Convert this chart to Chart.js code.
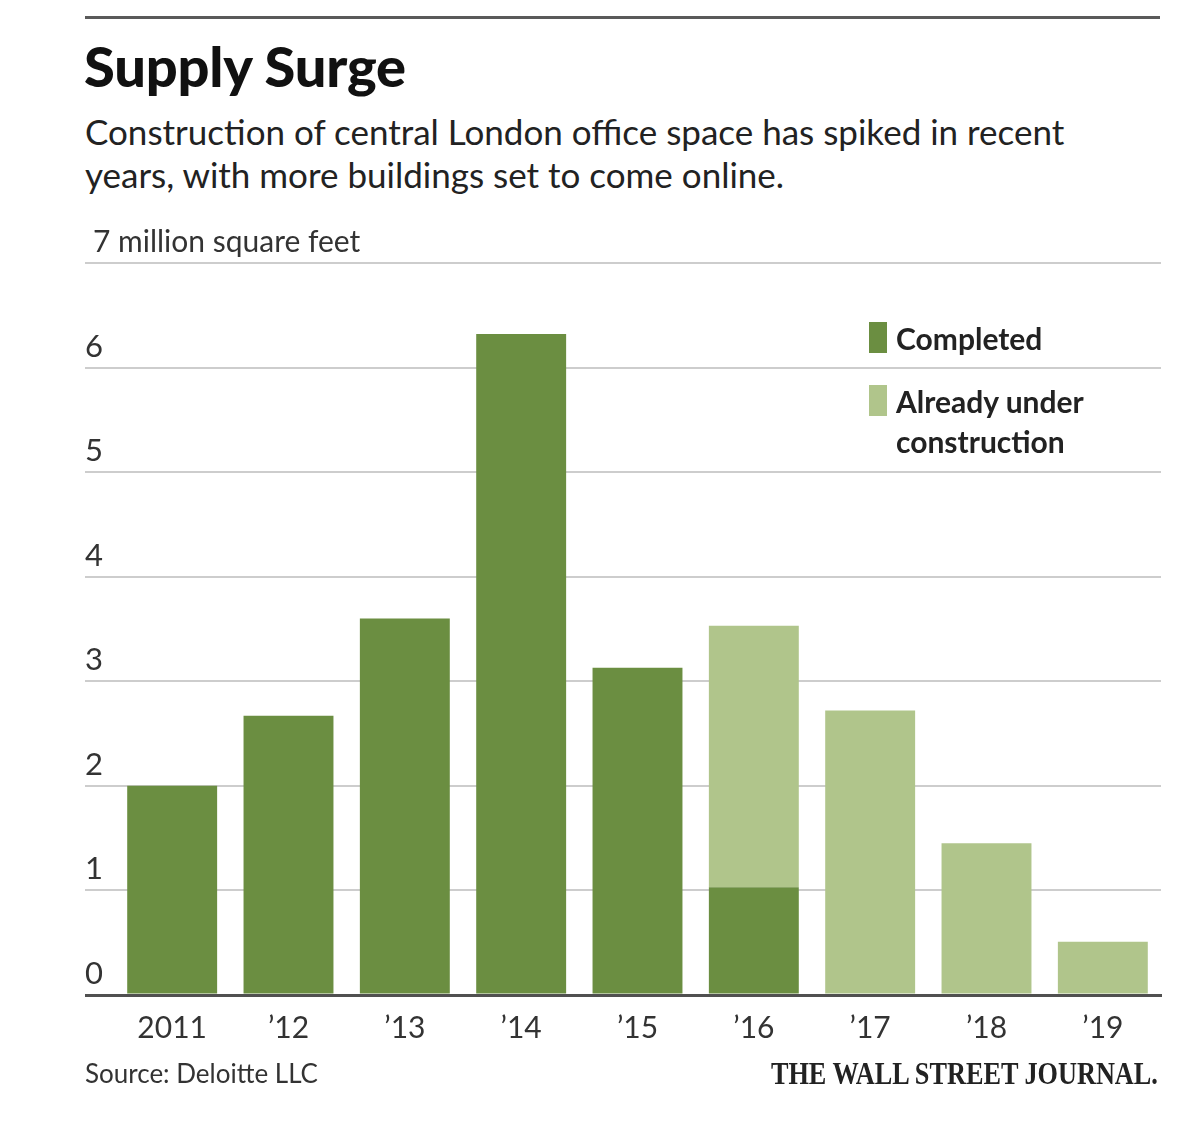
<!DOCTYPE html>
<html>
<head>
<meta charset="utf-8">
<script src="https://cdn.jsdelivr.net/npm/chart.js@4/dist/chart.umd.min.js"></script>
<style>
  html, body { margin: 0; padding: 0; background: #fff; }
  body { width: 1200px; height: 1121px; position: relative; overflow: hidden; font-family: Lato, 'Noto Sans', sans-serif; }
  .rule { position: absolute; left: 85px; top: 16px; width: 1075px; height: 3px; background: #5a5a5a; }
  .title { position: absolute; left: 84px; top: 38px; font-size: 56px; line-height: 56px; font-weight: 900; color: #111; white-space: nowrap; letter-spacing: -0.2px; }
  .sub { position: absolute; left: 85px; top: 110px; font-size: 35px; line-height: 43px; color: #222; white-space: nowrap; }
  #wrap { position: absolute; left: 0; top: 200px; width: 1200px; height: 860px; }
  .legend { position: absolute; left: 869px; font-size: 30px; line-height: 40px; font-weight: 700; color: #222; }
  .legend .sw { position: absolute; left: 0; width: 18px; height: 31px; }
  .legend .txt { position: absolute; left: 27px; white-space: nowrap; }
  .source { position: absolute; left: 85px; top: 1054px; font-size: 26px; line-height: 38px; color: #333; }
  .wsj { position: absolute; right: 42px; top: 1054px; font-family: 'Liberation Serif', 'DejaVu Serif', serif; font-weight: 700; font-size: 32px; line-height: 38px; color: #222; white-space: nowrap; transform: scaleX(0.82); transform-origin: right center; }
</style>
</head>
<body>
<div class="rule"></div>
<div class="title">Supply Surge</div>
<div class="sub">Construction of central London office space has spiked in recent<br>years, with more buildings set to come online.</div>
<div id="wrap"><canvas id="chart"></canvas></div>
<div class="legend" style="top:0">
  <div class="sw" style="top:322px; background:#6b8e41"></div>
  <div class="txt" style="top:318px">Completed</div>
  <div class="sw" style="top:385px; background:#b0c58b"></div>
  <div class="txt" style="top:381px">Already under<br>construction</div>
</div>
<div class="source">Source: Deloitte LLC</div>
<div class="wsj">THE WALL STREET JOURNAL.</div>
<script>
// --- DATA ---
const categories = ['2011', '\u201912', '\u201913', '\u201914', '\u201915', '\u201916', '\u201917', '\u201918', '\u201919'];
const completed = [2.0, 2.67, 3.6, 6.32, 3.13, 1.03, 0, 0, 0];
const underConstruction = [0, 0, 0, 0, 0, 2.5, 2.72, 1.45, 0.51];
const yTicks = [0, 1, 2, 3, 4, 5, 6, 7];
const yTopValue = 7;
const yTopLabel = '7 million square feet';

const darkGreen = '#6b8e41';
const lightGreen = '#b0c58b';
const tickFont = { family: 'Lato', size: 31 };

// the top tick label is wider than the axis, so draw it from the scale position
const topLabelPlugin = {
    id: 'topLabel',
    afterDraw(chart) {
        const y = chart.scales.y;
        const ctx = chart.ctx;
        ctx.save();
        ctx.font = '30px ' + tickFont.family;
        ctx.fillStyle = '#333';
        ctx.textAlign = 'left';
        ctx.textBaseline = 'middle';
        ctx.fillText(yTopLabel, y.left + 8, y.getPixelForValue(yTopValue) - 21);
        ctx.restore();
    }
};

new Chart(document.getElementById('chart'), {
    type: 'bar',
    data: {
        labels: categories,
        datasets: [
            { label: 'Completed', data: completed, backgroundColor: darkGreen, borderWidth: 0,
              barPercentage: 0.773, categoryPercentage: 1.0 },
            { label: 'Already under construction', data: underConstruction, backgroundColor: lightGreen, borderWidth: 0,
              barPercentage: 0.773, categoryPercentage: 1.0 }
        ]
    },
    options: {
        responsive: true,
        maintainAspectRatio: false,
        animation: false,
        layout: { padding: { top: 63, left: 85, right: 39, bottom: 20 } },
        plugins: { legend: { display: false }, tooltip: { enabled: false } },
        scales: {
            x: {
                stacked: true,
                afterFit: s => { s.height = 45; },
                grid: { display: false, drawTicks: false },
                border: { display: true, color: '#505050', width: 3, z: 1 },
                ticks: {
                    font: { family: 'Lato', size: 30 },
                    color: '#333', padding: 15, maxRotation: 0, autoSkip: false
                }
            },
            y: {
                stacked: true,
                min: 0,
                max: 7,
                afterFit: s => { s.width = 29; },
                afterBuildTicks: s => { s.ticks = yTicks.map(v => ({ value: v })); },
                border: { display: false },
                grid: {
                    color: ctx => (ctx.tick && ctx.tick.value === 0) ? '#505050' : '#cdcdcd',
                    lineWidth: ctx => (ctx.tick && ctx.tick.value === 0) ? 3 : 2,
                    tickLength: 29
                },
                ticks: {
                    crossAlign: 'far',
                    labelOffset: -21,
                    padding: 0,
                    font: tickFont,
                    color: '#333',
                    callback: v => v === yTopValue ? '' : v
                }
            }
        }
    },
    plugins: [topLabelPlugin]
});
</script>
</body>
</html>
